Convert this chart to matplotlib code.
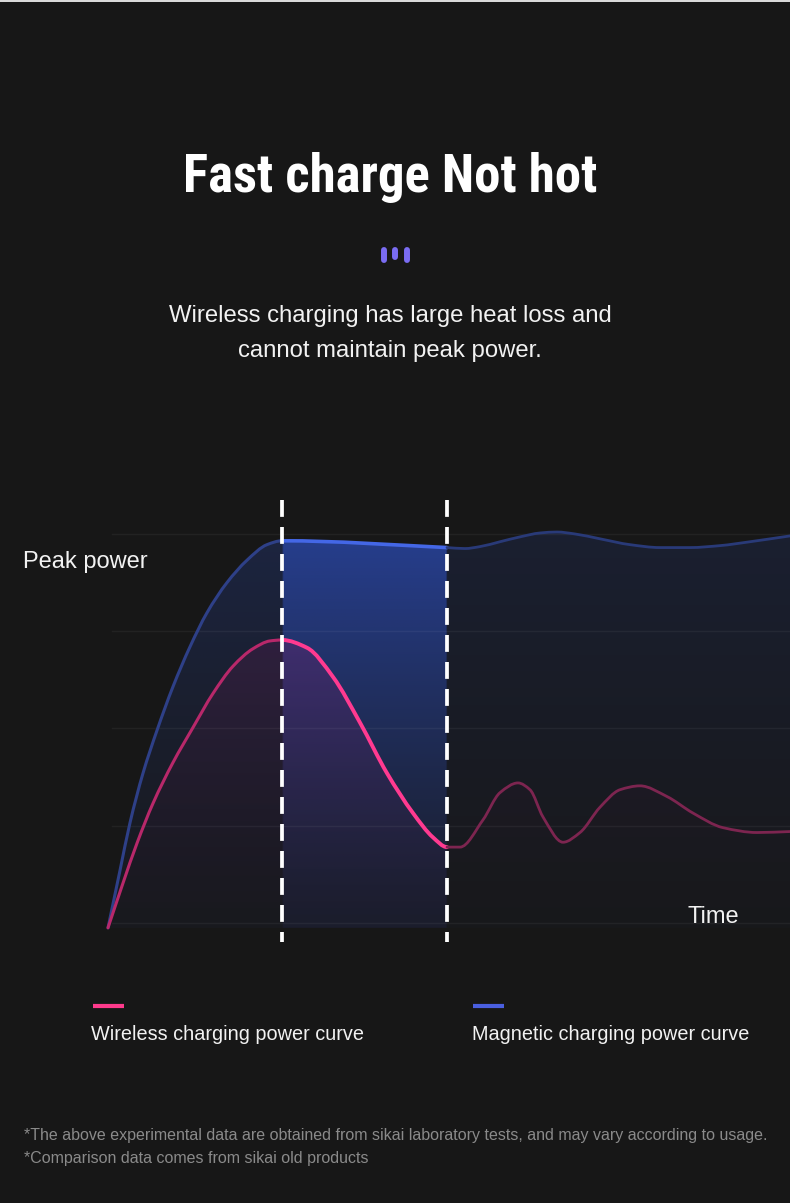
import numpy as np
import matplotlib
matplotlib.use("Agg")
import matplotlib.pyplot as plt
from matplotlib import font_manager
from matplotlib.lines import Line2D
from matplotlib.path import Path
from matplotlib.patches import PathPatch, Rectangle

# curve samples (time units, power units)
time_magnetic = [0.0, 1.2, 2.2, 3.5, 4.9, 6.5, 8.2, 9.9, 11.9, 13.9, 15.9, 17.4,
                 33.9, 35.7, 37.2, 39.2, 41.2, 43.2, 44.9, 46.7, 49.2, 52.2,
                 55.2, 58.2, 61.2, 64.2, 68.2]
power_magnetic = [-0.05, 0.54, 1.03, 1.54, 1.98, 2.43, 2.84, 3.19, 3.50, 3.73, 3.89, 3.93,
                  3.86, 3.85, 3.87, 3.92, 3.97, 4.01, 4.02, 4.00, 3.95, 3.89,
                  3.86, 3.86, 3.88, 3.92, 3.98]

time_wireless = [0.0, 1.5, 2.9, 4.5, 6.5, 8.5, 10.5, 12.5, 14.5, 16.2, 17.4,
                 19.9, 22.5, 25.2, 27.9, 30.5, 32.5, 33.9, 35.2, 37.5, 39.2,
                 41.0, 42.2, 43.5, 45.5, 47.2, 49.2, 51.2, 53.2, 55.9, 58.5,
                 61.5, 64.9, 68.2]
power_wireless = [-0.05, 0.41, 0.82, 1.23, 1.65, 2.01, 2.36, 2.64, 2.82, 2.90, 2.91,
                  2.83, 2.53, 2.06, 1.54, 1.13, 0.88, 0.78, 0.78, 1.06, 1.34,
                  1.44, 1.37, 1.09, 0.83, 0.93, 1.19, 1.37, 1.41, 1.30, 1.13,
                  0.98, 0.93, 0.94]

marker_times = [17.4, 33.9]
grid_levels = [0, 1, 2, 3, 4]

title = "Fast charge Not hot"
subtitle = ["Wireless charging has large heat loss and", "cannot maintain peak power."]
y_label = "Peak power"
x_label = "Time"
legend_labels = ["Wireless charging power curve", "Magnetic charging power curve"]
footnotes = ["*The above experimental data are obtained from sikai laboratory tests, and may vary according to usage.",
             "*Comparison data comes from sikai old products"]

W, H = 790, 1203
BG = "#171717"

fonts = font_manager.fontManager.ttflist
names = {f.name for f in fonts}
title_font, title_stretch = "DejaVu Sans", "normal"
for cand in ["Liberation Sans Narrow", "Roboto Condensed", "Open Sans Condensed"]:
    if cand in names:
        title_font = cand
        break
else:
    if any(f.name == "DejaVu Sans" and f.stretch == "condensed" for f in fonts):
        title_stretch = "condensed"
    elif "Roboto" in names:
        title_font = "Roboto"
body_font = "Liberation Sans" if "Liberation Sans" in names else "DejaVu Sans"
plt.rcParams["font.family"] = [body_font, "DejaVu Sans"]

fig = plt.figure(figsize=(W / 100, H / 100), dpi=100, facecolor=BG)


def px_text(x, y, s, **kw):
    return fig.text(x / W, 1 - y / H, s, **kw)


def px_line(xs, ys, **kw):
    fig.add_artist(Line2D([v / W for v in xs], [1 - v / H for v in ys],
                          transform=fig.transFigure, **kw))


# thin light strip on top edge
fig.add_artist(Rectangle((0, 1 - 2 / H), 1, 2 / H, transform=fig.transFigure,
                         facecolor="#d9d9d9", edgecolor="none"))

# chart area
ax = fig.add_axes([100 / W, 1 - 950 / H, 690 / W, 460 / H])
ax.set_axis_off()
xlim = (-0.8, 68.2)
ylim = (-0.278, 4.452)
base_y = -0.05

t1, t2 = marker_times


def slopes(x, y):
    # monotone (pchip style) tangents, no overshoot at peaks
    h = np.diff(x)
    d = np.diff(y) / h
    m = np.zeros_like(y)
    m[0], m[-1] = d[0], d[-1]
    for i in range(1, len(y) - 1):
        if d[i - 1] * d[i] > 0:
            w1 = 2 * h[i] + h[i - 1]
            w2 = h[i] + 2 * h[i - 1]
            m[i] = (w1 + w2) / (w1 / d[i - 1] + w2 / d[i])
    return m


def smooth_verts(x, y, i0, i1):
    x = np.asarray(x, float)
    y = np.asarray(y, float)
    m = slopes(x, y)
    verts = [(x[i0], y[i0])]
    codes = [Path.MOVETO]
    for i in range(i0, i1):
        h = x[i + 1] - x[i]
        verts += [(x[i] + h / 3, y[i] + m[i] * h / 3),
                  (x[i + 1] - h / 3, y[i + 1] - m[i + 1] * h / 3),
                  (x[i + 1], y[i + 1])]
        codes += [Path.CURVE4] * 3
    return verts, codes


def gradient_fill(x, y, rgb, band_a, left_a, right_a, floor, power, zorder):
    verts, codes = smooth_verts(x, y, 0, len(x) - 1)
    verts += [(x[-1], base_y), (x[0], base_y), (x[0], y[0])]
    codes += [Path.LINETO, Path.LINETO, Path.CLOSEPOLY]
    patch = PathPatch(Path(verts, codes), transform=ax.transData,
                      facecolor="none", edgecolor="none")
    ax.add_patch(patch)
    xs = np.linspace(xlim[0], xlim[1], 400)
    ys = np.linspace(ylim[0], ylim[1], 300)
    gx, gy = np.meshgrid(xs, ys)
    base = np.where(gx < t1, left_a, np.where(gx <= t2, band_a, right_a))
    tt = np.clip(gy / 4.0, 0, 1)
    img = np.zeros(gx.shape + (4,))
    img[..., :3] = rgb
    img[..., 3] = base * (floor + (1 - floor) * tt ** power)
    im = ax.imshow(img, extent=[xlim[0], xlim[1], ylim[0], ylim[1]], origin="lower",
                   aspect="auto", interpolation="bilinear", zorder=zorder)
    im.set_clip_path(patch)


gradient_fill(time_magnetic, power_magnetic, (0.16, 0.26, 0.60), 0.92, 0.32, 0.2, 0.18, 1.2, 1)
gradient_fill(time_wireless, power_wireless, (0.62, 0.10, 0.42), 0.36, 0.24, 0.13, 0.05, 1.4, 2)

for lv in grid_levels:
    ax.plot([0.4, 68.2], [lv, lv], color="white", alpha=0.05, lw=1, zorder=3)


def split_plot(x, y, styles):
    xa = np.asarray(x)
    i_a = int(np.argmin(abs(xa - t1)))
    i_b = int(np.argmin(abs(xa - t2)))
    ranges = [(0, i_a), (i_a, i_b), (i_b, len(xa) - 1)]
    for (i0, i1), (c, lw) in zip(ranges, styles):
        verts, codes = smooth_verts(x, y, i0, i1)
        ax.add_patch(PathPatch(Path(verts, codes), transform=ax.transData,
                               facecolor="none", edgecolor=c, lw=lw,
                               capstyle="round", joinstyle="round", zorder=4))


split_plot(time_magnetic, power_magnetic,
           [("#2e4088", 2.2), ("#4467e6", 2.6), ("#293a78", 2.0)])
split_plot(time_wireless, power_wireless,
           [("#b8286a", 2.2), ("#ff3a90", 2.8), ("#7d2550", 2.0)])

# dashed markers, drawn top-down so the dash pattern starts at the top
for t in marker_times:
    ax.plot([t, t], [4.35, -0.195], color="white", lw=2.7,
            linestyle=(0, (4.5, 2.7)), zorder=5)

ax.set_xlim(*xlim)
ax.set_ylim(*ylim)

# header
tt_ = px_text(390, 192, title, ha="center", va="baseline", fontsize=35,
              weight="bold", family=[title_font, "DejaVu Sans"],
              fontstretch=title_stretch, color="white")
renderer = fig.canvas.get_renderer()
tw = tt_.get_window_extent(renderer).width
tt_.set_fontsize(min(38, 35 * 415 / tw))

for bx, y0, y1 in [(383.5, 250, 260), (395, 250, 256.5), (406.5, 250, 260)]:
    px_line([bx, bx], [y0, y1], color="#7a6cf2", lw=4.3, solid_capstyle="round")
px_text(390, 322, subtitle[0], ha="center", va="baseline", fontsize=17.2, color="#f2f2f2")
px_text(390, 357, subtitle[1], ha="center", va="baseline", fontsize=17.2, color="#f2f2f2")

px_text(23, 568, y_label, ha="left", va="baseline", fontsize=17, color="#f2f2f2")
px_text(687, 923, x_label, ha="left", va="baseline", fontsize=17, color="#f2f2f2")

# legend
px_line([93, 124], [1005.5, 1005.5], color="#ff3a8c", lw=3, solid_capstyle="butt")
px_line([473, 504], [1005.5, 1005.5], color="#4a5fe0", lw=3, solid_capstyle="butt")
px_text(91, 1040, legend_labels[0], ha="left", va="baseline", fontsize=14.3, color="#f2f2f2")
px_text(472, 1040, legend_labels[1], ha="left", va="baseline", fontsize=14.3, color="#f2f2f2")

px_text(24, 1140, footnotes[0], ha="left", va="baseline", fontsize=11.5, color="#8a8a8a")
px_text(24, 1163, footnotes[1], ha="left", va="baseline", fontsize=11.5, color="#8a8a8a")

fig.savefig("out.png", dpi=100, facecolor=fig.get_facecolor())
